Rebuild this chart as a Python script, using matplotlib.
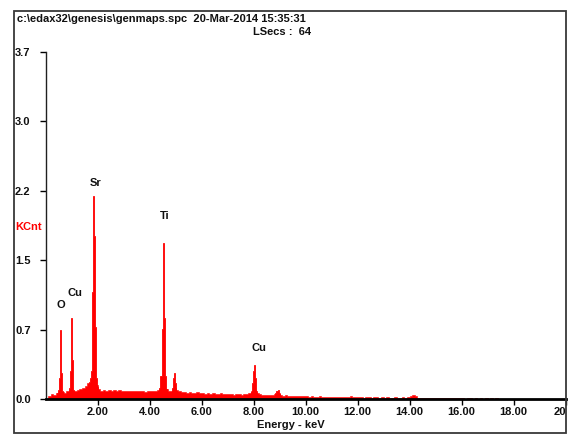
import numpy as np
import matplotlib
matplotlib.use("Agg")
import matplotlib.pyplot as plt
from matplotlib.patches import Rectangle

plt.rcParams['font.family'] = ['Liberation Sans', 'DejaVu Sans']
plt.rcParams['font.weight'] = 'bold'

# Header info
SPC_FILE = "c:\\edax32\\genesis\\genmaps.spc  20-Mar-2014 15:35:31"
LIVE_SECS = "LSecs :  64"

# Continuum, 0.1 keV channels starting at 0.1 keV (KCnt)
BG_START = 0.1
BG_STEP = 0.1
bg_counts = [
    0.03, 0.05, 0.04, 0.06, 0.08, 0.07, 0.06, 0.08, 0.09,        # 0.1 - 0.9
    0.08, 0.09, 0.10, 0.11, 0.12, 0.14, 0.17, 0.15, 0.16, 0.15,  # 1.0 - 1.9
    0.11, 0.09, 0.10, 0.09, 0.10, 0.09, 0.10, 0.09, 0.10, 0.09,  # 2.0 - 2.9
    0.09, 0.08, 0.09, 0.08, 0.08, 0.09, 0.08, 0.08, 0.07, 0.08,  # 3.0 - 3.9
    0.08, 0.08, 0.09, 0.10, 0.12, 0.14, 0.11, 0.09, 0.09, 0.12,  # 4.0 - 4.9
    0.10, 0.08, 0.07, 0.07, 0.06, 0.07, 0.06, 0.06, 0.07, 0.06,  # 5.0 - 5.9
    0.06, 0.05, 0.06, 0.05, 0.06, 0.05, 0.05, 0.06, 0.05, 0.05,  # 6.0 - 6.9
    0.05, 0.05, 0.04, 0.05, 0.05, 0.04, 0.05, 0.05, 0.06, 0.08,  # 7.0 - 7.9
    0.10, 0.06, 0.05, 0.04, 0.04, 0.04, 0.04, 0.04, 0.05, 0.06,  # 8.0 - 8.9
    0.04, 0.035, 0.04, 0.03, 0.035, 0.03, 0.03, 0.035, 0.03, 0.03,  # 9.0 - 9.9
    0.03, 0.025, 0.03, 0.025, 0.025, 0.03, 0.025, 0.02, 0.025, 0.025,  # 10.0 - 10.9
    0.02, 0.025, 0.02, 0.02, 0.025, 0.02, 0.02, 0.03, 0.02, 0.02,  # 11.0 - 11.9
    0.02, 0.02, 0.015, 0.02, 0.02, 0.015, 0.02, 0.02, 0.015, 0.02,  # 12.0 - 12.9
    0.015, 0.02, 0.015, 0.015, 0.02, 0.015, 0.015, 0.02, 0.015, 0.02,  # 13.0 - 13.9
    0.03, 0.04, 0.03, 0.015, 0.015, 0.01, 0.015, 0.01, 0.01, 0.015,  # 14.0 - 14.9
    0.01, 0.01, 0.015, 0.01, 0.01, 0.01, 0.015, 0.01, 0.01, 0.01,  # 15.0 - 15.9
    0.01, 0.0, 0.01, 0.01, 0.0, 0.01, 0.0, 0.01, 0.0, 0.01,      # 16.0 - 16.9
    0.0, 0.01, 0.0, 0.01, 0.0, 0.0, 0.0, 0.0, 0.0, 0.0,          # 17.0 - 17.9
]

# Characteristic lines, 0.04 keV channels (channel start, KCnt)
PEAK_STEP = 0.04
o_ka_kev = [0.43, 0.47, 0.51, 0.55, 0.59, 0.63]
o_ka_cnt = [0.06, 0.10, 0.22, 0.74, 0.28, 0.08]
cu_la_kev = [0.85, 0.89, 0.93, 0.97, 1.01, 1.05]
cu_la_cnt = [0.07, 0.12, 0.30, 0.86, 0.42, 0.10]
sr_la_kev = [1.66, 1.70, 1.74, 1.78, 1.82, 1.86, 1.90, 1.94, 1.98]
sr_la_cnt = [0.18, 0.22, 0.30, 1.14, 2.16, 1.74, 0.77, 0.22, 0.13]
ti_ka_kev = [4.38, 4.42, 4.46, 4.50, 4.54, 4.58, 4.62]
ti_ka_cnt = [0.12, 0.24, 0.75, 1.66, 0.86, 0.25, 0.11]
ti_kb_kev = [4.86, 4.90, 4.94, 4.98, 5.02]
ti_kb_cnt = [0.12, 0.22, 0.28, 0.17, 0.09]
cu_ka_kev = [7.91, 7.95, 7.99, 8.03, 8.07, 8.11]
cu_ka_cnt = [0.07, 0.17, 0.30, 0.36, 0.22, 0.08]
cu_kb_kev = [8.84, 8.88, 8.92, 8.96]
cu_kb_cnt = [0.06, 0.09, 0.10, 0.05]

# Element labels and where they sit (keV, KCnt)
label_names = ["O", "Cu", "Sr", "Ti", "Cu"]
label_kev = [0.58, 1.13, 1.94, 4.60, 8.21]
label_cnt = [1.00, 1.13, 2.30, 1.95, 0.54]

x_ticks = [2, 4, 6, 8, 10, 12, 14, 16, 18, 20]
x_tick_labels = ["2.00", "4.00", "6.00", "8.00", "10.00", "12.00",
                 "14.00", "16.00", "18.00", "20"]
y_ticks = [0.0, 0.74, 1.48, 2.22, 2.96, 3.7]
y_tick_labels = ["0.0", "0.7", "1.5", "2.2", "3.0", "3.7"]

W, H = 568, 436
RED = "#ff0000"
INK = "#101010"


def fpos(x, y):
  """pixel position -> figure fraction"""
  return x / W, 1 - y / H


fig = plt.figure(figsize=(W / 100, H / 100), dpi=100)
ax = fig.add_axes([45.5 / W, (H - 399) / H, 520.2 / W, 347 / H])

# continuum
bg_edges = BG_START + BG_STEP * np.arange(len(bg_counts) + 1)
ax.stairs(bg_counts, bg_edges, fill=True, facecolor=RED, edgecolor=RED,
          lw=0.4)

# line peaks on top
for kev, cnt in [(o_ka_kev, o_ka_cnt), (cu_la_kev, cu_la_cnt),
                 (sr_la_kev, sr_la_cnt), (ti_ka_kev, ti_ka_cnt),
                 (ti_kb_kev, ti_kb_cnt), (cu_ka_kev, cu_ka_cnt),
                 (cu_kb_kev, cu_kb_cnt)]:
  edges = list(kev) + [kev[-1] + PEAK_STEP]
  ax.stairs(cnt, edges, fill=True, facecolor=RED, edgecolor=RED, lw=0.6)

for name, e, c in zip(label_names, label_kev, label_cnt):
  ax.text(e, c, name, ha="center", va="center", fontsize=8, color=INK)

ax.set_xlim(0, 20)
ax.set_ylim(0, 3.7)

ax.spines["top"].set_visible(False)
ax.spines["right"].set_visible(False)
ax.spines["bottom"].set_linewidth(2.0)
ax.spines["bottom"].set_color("black")
ax.spines["left"].set_linewidth(1.0)
ax.spines["left"].set_color("#202020")

ax.set_xticks(x_ticks)
ax.set_xticklabels(x_tick_labels, fontsize=8, color=INK)
ax.tick_params(axis="x", direction="out", length=4, width=1, pad=1.5)
# last label runs into the box edge, so it sits left of its tick
ax.get_xticklabels()[-1].set_horizontalalignment("right")

ax.set_yticks(y_ticks)
ax.set_yticklabels(y_tick_labels, fontsize=8, color=INK, ha="left")
ax.tick_params(axis="y", direction="out", length=4.3, width=1, pad=17.6)

# outer box
frame = Rectangle(fpos(13.5, 433), (566 - 13.5) / W, (433 - 11.5) / H,
                  transform=fig.transFigure, fill=False,
                  ec="#383838", lw=1.3)
fig.add_artist(frame)

fig.text(*fpos(17, 18.5), SPC_FILE, ha="left", va="center",
         fontsize=8, color=INK)
fig.text(*fpos(253, 32), LIVE_SECS, ha="left", va="center",
         fontsize=8, color=INK)
fig.text(*fpos(15, 227), "KCnt", ha="left", va="center",
         fontsize=8, color=RED)
fig.text(*fpos(291, 425), "Energy - keV", ha="center", va="center",
         fontsize=8, color=INK)

fig.savefig("out.png", dpi=100)
